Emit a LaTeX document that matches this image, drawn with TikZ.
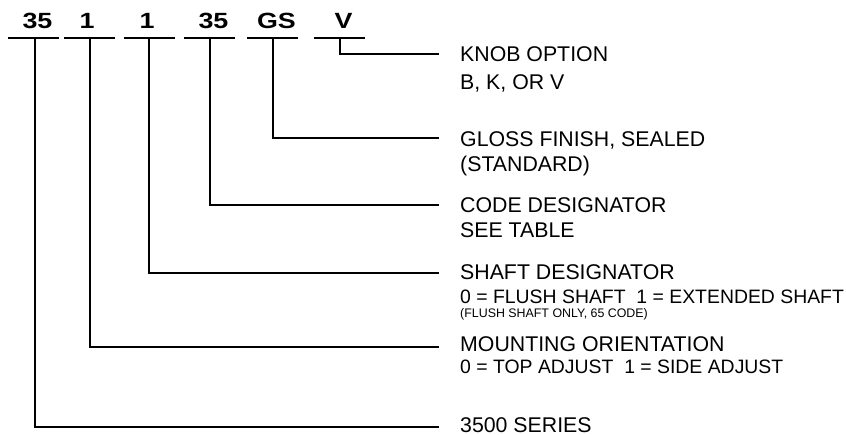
\documentclass[tikz,border=0pt]{standalone}
\usepackage{graphicx}
\usepackage{fontspec}
\setmainfont{Liberation Sans}
\begin{document}
\begin{tikzpicture}[x=1pt,y=-1pt,
  conn/.style={line width=1.5pt, line cap=rect},
  uline/.style={line width=1.8pt},
  code/.style={anchor=base, inner sep=0pt, font=\fontsize{22}{26}\selectfont\bfseries},
  big/.style={anchor=base west, inner sep=0pt, font=\fontsize{21.3}{25}\selectfont},
  mid/.style={anchor=base west, inner sep=0pt, font=\fontsize{19.4}{23}\selectfont},
  small/.style={anchor=base west, inner sep=0pt, font=\fontsize{12.4}{14}\selectfont}]
\useasboundingbox (0,0) rectangle (846,435);

% code labels
\node[code] (c1) at (37.5,29) {\scalebox{1.22}[1]{35}};
\node[code] (c2) at (87,29) {\scalebox{1.22}[1]{1}};
\node[code] (c3) at (147,29) {\scalebox{1.22}[1]{1}};
\node[code] (c4) at (213.5,29) {\scalebox{1.22}[1]{35}};
\node[code] (c5) at (276.5,29) {\scalebox{1.22}[1]{GS}};
\node[code] (c6) at (343.5,29) {\scalebox{1.22}[1]{V}};

% underlines
\draw[uline] (8,38) -- (59,38);
\draw[uline] (64,38) -- (115,38);
\draw[uline] (124,38) -- (175,38);
\draw[uline] (184,38) -- (235,38);
\draw[uline] (247,38) -- (298,38);
\draw[uline] (314,38) -- (365,38);

% connector start points
\coordinate (u1) at (35,38);
\coordinate (u2) at (90,38);
\coordinate (u3) at (149,38);
\coordinate (u4) at (210,38);
\coordinate (u5) at (273,38);
\coordinate (u6) at (340,38);

% connector end points
\coordinate (e1) at (438,427);
\coordinate (e2) at (438,347);
\coordinate (e3) at (438,273);
\coordinate (e4) at (438,205);
\coordinate (e5) at (438,138);
\coordinate (e6) at (438,54);

\draw[conn] (u1) |- (e1);
\draw[conn] (u2) |- (e2);
\draw[conn] (u3) |- (e3);
\draw[conn] (u4) |- (e4);
\draw[conn] (u5) |- (e5);
\draw[conn] (u6) |- (e6);

% descriptions
\node[big] (d6a) at (460,62) {KNOB OPTION};
\node[big] (d6b) at (460,90) {B, K, OR V};
\node[big] (d5a) at (460,147) {GLOSS FINISH, SEALED};
\node[big] (d5b) at (460,172) {(STANDARD)};
\node[big] (d4a) at (460,213) {CODE DESIGNATOR};
\node[big] (d4b) at (460,238) {SEE TABLE};
\node[big] (d3a) at (460,280) {SHAFT DESIGNATOR};
\node[mid] (d3b) at (460,304) {0 = FLUSH SHAFT\ \ 1 = EXTENDED SHAFT};
\node[small] (d3c) at (460,318) {(FLUSH SHAFT ONLY, 65 CODE)};
\node[big] (d2a) at (460,352) {MOUNTING ORIENTATION};
\node[mid] (d2b) at (460,374) {0 = TOP ADJUST\ \ 1 = SIDE ADJUST};
\node[big] (d1a) at (460,432) {3500 SERIES};
\end{tikzpicture}
\end{document}
